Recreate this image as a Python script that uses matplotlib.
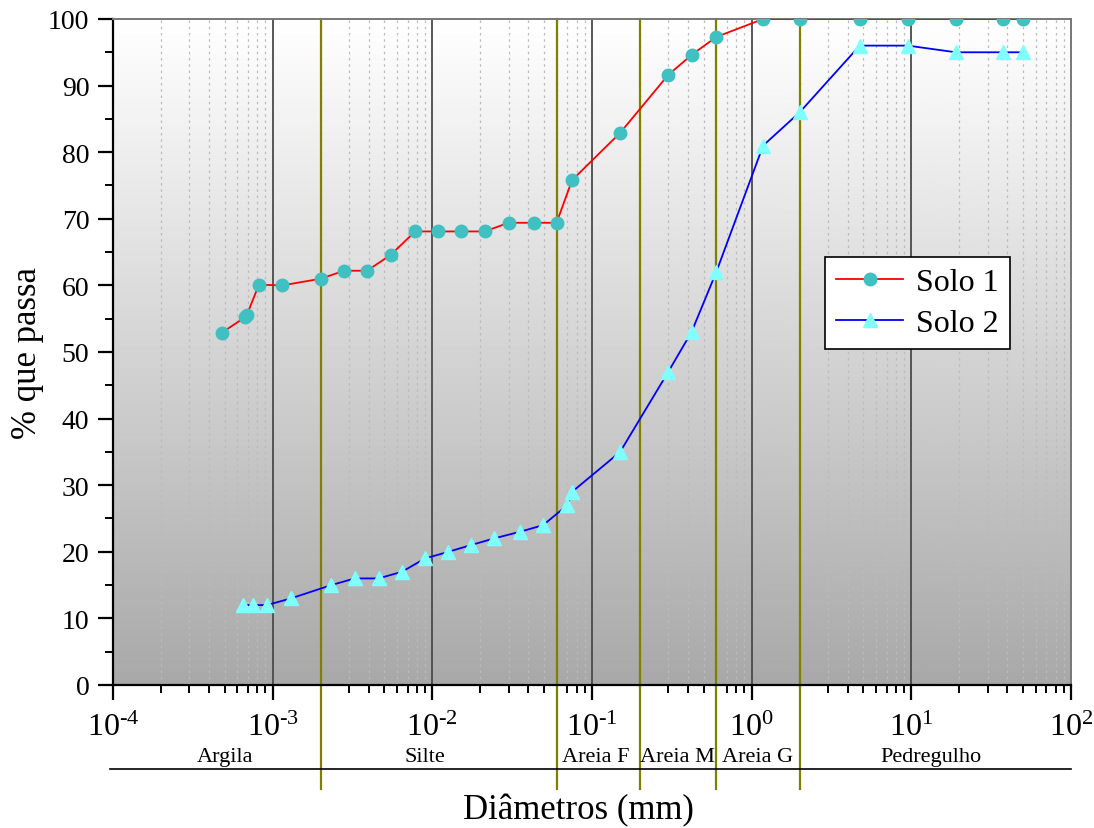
import numpy as np
import matplotlib
matplotlib.use("Agg")
import matplotlib.pyplot as plt
from matplotlib.ticker import LogLocator, FixedFormatter, FixedLocator, NullFormatter, MultipleLocator

plt.rcParams['font.family'] = ['Liberation Serif', 'DejaVu Serif']
plt.rcParams['mathtext.fontset'] = 'custom'
plt.rcParams['mathtext.rm'] = 'Liberation Serif'
plt.rcParams['mathtext.it'] = 'Liberation Serif:italic'

# Solo 1 (circles)
solo1_d = [4.8e-4, 6.7e-4, 6.9e-4, 8.2e-4, 1.15e-3, 2.0e-3, 2.8e-3, 3.9e-3, 5.5e-3,
           7.8e-3, 1.08e-2, 1.51e-2, 2.13e-2, 3.0e-2, 4.33e-2, 6.0e-2, 0.075, 0.15,
           0.30, 0.42, 0.60, 1.18, 2.0, 4.75, 9.5, 19.0, 37.5, 50.0]
solo1_p = [52.9, 55.2, 55.6, 60.1, 60.0, 61.0, 62.2, 62.2, 64.6,
           68.1, 68.1, 68.1, 68.1, 69.4, 69.4, 69.4, 75.8, 82.9,
           91.6, 94.6, 97.3, 100, 100, 100, 100, 100, 100, 100]

# Solo 2 (triangles)
solo2_d = [6.5e-4, 7.5e-4, 9.2e-4, 1.3e-3, 2.33e-3, 3.26e-3, 4.6e-3, 6.45e-3, 9.0e-3,
           1.26e-2, 1.74e-2, 2.43e-2, 3.53e-2, 4.94e-2, 7.0e-2, 0.075, 0.15, 0.30,
           0.42, 0.60, 1.18, 2.0, 4.75, 9.5, 19.0, 37.5, 50.0]
solo2_p = [12, 12, 12, 13, 15, 16, 16, 17, 19,
           20, 21, 22, 23, 24, 27, 29, 35, 47,
           53, 62, 81, 86, 96, 96, 95, 95, 95]

# limites das frações granulométricas
limites = [0.002, 0.06, 0.2, 0.6, 2.0]
fracoes = ['Argila', 'Silte', 'Areia F', 'Areia M', 'Areia G', 'Pedregulho']
fracoes_x = [5.0e-4, 9.0e-3, 0.106, 0.345, 1.09, 13.2]

decadas = [1e-4, 1e-3, 1e-2, 1e-1, 1, 10, 100]
decadas_lbl = [r'$\mathregular{10^{\text{-}4}}$', r'$\mathregular{10^{\text{-}3}}$',
               r'$\mathregular{10^{\text{-}2}}$', r'$\mathregular{10^{\text{-}1}}$',
               r'$\mathregular{10^{0}}$', r'$\mathregular{10^{1}}$', r'$\mathregular{10^{2}}$']

fig = plt.figure(figsize=(10.94, 8.29), dpi=100)
ax = fig.add_axes([0.1033, 0.1725, 0.8757, 0.8034])
ax.set_xscale('log')
ax.set_xlim(1e-4, 1e2)
ax.set_ylim(0, 100)

# fundo em degradê
grad = np.linspace(0.66, 1.0, 256).reshape(-1, 1)
ax.imshow(grad, cmap='gray', vmin=0, vmax=1, aspect='auto', origin='lower',
          extent=[1e-4, 1e2, 0, 100], zorder=0)

# grade vertical
for d in decadas[1:-1]:
    ax.axvline(d, color='#4A4A4A', lw=1.3, zorder=1)
for e in range(-4, 2):
    for k in range(2, 10):
        ax.axvline(k * 10.0 ** e, color='#BBBBBB', lw=0.9, ls=(0, (2, 3)), zorder=1)

# linhas das frações
for lim in limites:
    ax.axvline(lim, ymin=-0.156, ymax=1, color='#808000', lw=1.6, clip_on=False, zorder=2)
ax.plot([-0.003, 1.0], [-0.126, -0.126], color='black', lw=1.2,
        transform=ax.transAxes, clip_on=False)
for nome, xx in zip(fracoes, fracoes_x):
    ax.text(xx, -0.107, nome, transform=ax.get_xaxis_transform(), ha='center',
            va='center', fontsize=16)

ax.plot(solo1_d, solo1_p, color='red', lw=1.3, marker='o', ms=9,
        mfc='#40C0C0', mec='#40C0C0', label='Solo 1', zorder=4)
ax.plot(solo2_d, solo2_p, color='blue', lw=1.3, marker='^', ms=9.5,
        mfc='#80FFFF', mec='#80FFFF', label='Solo 2', zorder=3)

ax.xaxis.set_major_locator(FixedLocator(decadas))
ax.xaxis.set_major_formatter(FixedFormatter(decadas_lbl))
ax.xaxis.set_minor_locator(LogLocator(base=10, subs=np.arange(2, 10), numticks=20))
ax.xaxis.set_minor_formatter(NullFormatter())
ax.yaxis.set_major_locator(MultipleLocator(10))
ax.yaxis.set_minor_locator(MultipleLocator(5))
ax.tick_params(axis='both', which='major', direction='out', length=11, width=1.6,
               labelsize=20)
ax.tick_params(axis='both', which='minor', direction='out', length=6, width=1.4)
ax.tick_params(axis='x', which='major', pad=9, labelsize=23)
ax.tick_params(axis='y', which='major', pad=6)
for s in ax.spines.values():
    s.set_linewidth(1.4)
    s.set_color('#777777')
ax.spines['bottom'].set_color('black')
ax.spines['left'].set_color('black')
ax.spines['bottom'].set_linewidth(1.6)
ax.spines['left'].set_linewidth(1.6)

ax.set_ylabel('% que passa', fontsize=25)
ax.yaxis.set_label_coords(-0.072, 0.5)
ax.set_xlabel('Diâmetros (mm)', fontsize=25)
ax.xaxis.set_label_coords(0.486, -0.162)

leg = ax.legend(loc='upper left', bbox_to_anchor=(0.743, 0.643), fontsize=23,
                fancybox=False, framealpha=1, edgecolor='black',
                handlelength=2.1, borderpad=0.35, labelspacing=0.35,
                handletextpad=0.4, borderaxespad=0)
leg.get_frame().set_linewidth(1.2)

fig.savefig('out.png', dpi=100)
